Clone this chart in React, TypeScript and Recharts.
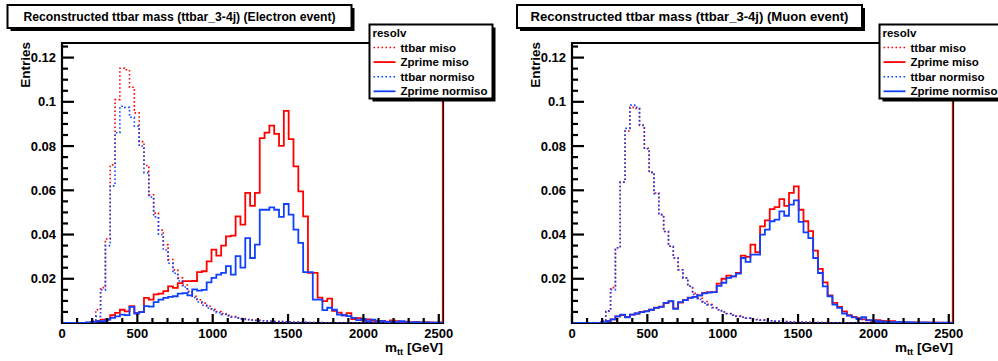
import { LineChart, Line, XAxis, YAxis, ReferenceArea } from "recharts"

// 79 bins of 32 GeV from 0 to 2528 GeV
const BIN_WIDTH = 32
const X_MAX = 2528
const Y_MAX = 0.1266

const X_TICKS = [0, 100, 200, 300, 400, 500, 600, 700, 800, 900, 1000, 1100, 1200, 1300, 1400, 1500, 1600, 1700, 1800, 1900, 2000, 2100, 2200, 2300, 2400, 2500]
const Y_TICKS = [0.005, 0.01, 0.015, 0.02, 0.025, 0.03, 0.035, 0.04, 0.045, 0.05, 0.055, 0.06, 0.065, 0.07, 0.075, 0.08, 0.085, 0.09, 0.095, 0.1, 0.105, 0.11, 0.115, 0.12, 0.125]

// Electron event
const ttbarMisoE = [
    0, 0, 0, 0, 0, 0, 0.001, 0.006, 0.016, 0.038,
    0.0715, 0.101, 0.1152, 0.1145, 0.1066, 0.095, 0.082, 0.0712, 0.058, 0.0497,
    0.042, 0.0354, 0.0287, 0.024, 0.0204, 0.0172, 0.0143, 0.0121, 0.0105, 0.009,
    0.0076, 0.0062, 0.0052, 0.0043, 0.0035, 0.0029, 0.0024, 0.002, 0.0016, 0.0014,
    0.0012, 0.001, 0.0009, 0.0008, 0.0007, 0.0006, 0.0005, 0.0004, 0.0004, 0.0003,
    0.0003, 0.0002, 0.0002, 0.0002, 0.0001, 0.0001, 0.0001, 0.0001, 0.0001, 0.0001,
    0.0001, 0, 0, 0, 0, 0, 0, 0, 0, 0,
    0, 0, 0, 0, 0, 0, 0, 0, 0,
]
const zprimeMisoE = [
    0, 0, 0, 0, 0, 0.0002, 0.0003, 0.001, 0.0015, 0.0016,
    0.0035, 0.0046, 0.006, 0.0053, 0.0076, 0.0046, 0.005, 0.0114, 0.0106, 0.0129,
    0.0133, 0.0144, 0.0166, 0.0159, 0.018, 0.0189, 0.0189, 0.019, 0.023, 0.0234,
    0.0279, 0.0332, 0.0305, 0.035, 0.0392, 0.0395, 0.0482, 0.0445, 0.0588, 0.053,
    0.0588, 0.0836, 0.0861, 0.0892, 0.0855, 0.0801, 0.0959, 0.0831, 0.0708, 0.0595,
    0.0482, 0.0227, 0.0227, 0.0115, 0.0099, 0.011, 0.0055, 0.0047, 0.0035, 0.0045,
    0.0018, 0.0022, 0.0012, 0.0016, 0.001, 0.0008, 0.0009, 0.0006, 0.0012, 0.0008,
    0.0005, 0.0006, 0.0004, 0.0005, 0.0003, 0.0004, 0.0003, 0.0002, 0.0003,
]
const ttbarNormisoE = [
    0, 0, 0, 0, 0, 0, 0.001, 0.003, 0.015, 0.035,
    0.062, 0.086, 0.098, 0.0975, 0.093, 0.089, 0.08, 0.068, 0.057, 0.048,
    0.04, 0.033, 0.027, 0.0225, 0.019, 0.0163, 0.014, 0.0115, 0.0095, 0.008,
    0.0068, 0.0057, 0.0047, 0.0039, 0.0032, 0.0027, 0.0022, 0.0018, 0.0015, 0.0013,
    0.0011, 0.001, 0.0009, 0.0008, 0.0007, 0.0006, 0.0005, 0.0004, 0.0003, 0.0003,
    0.0003, 0.0002, 0.0002, 0.0001, 0.0001, 0.0001, 0.0001, 0.0001, 0.0001, 0.0001,
    0, 0, 0, 0, 0, 0, 0, 0, 0, 0,
    0, 0, 0, 0, 0, 0, 0, 0, 0,
]
const zprimeNormisoE = [
    0, 0, 0, 0, 0, 0.0003, 0.0005, 0.0008, 0.0008, 0.0015,
    0.0023, 0.003, 0.0038, 0.0036, 0.0073, 0.0043, 0.0049, 0.0076, 0.0074, 0.0094,
    0.0106, 0.0114, 0.0118, 0.0121, 0.0133, 0.0135, 0.0125, 0.0152, 0.0146, 0.015,
    0.0184, 0.0204, 0.0219, 0.0227, 0.0257, 0.0219, 0.0302, 0.025, 0.0384, 0.0294,
    0.0354, 0.0512, 0.0512, 0.0523, 0.0512, 0.048, 0.0538, 0.049, 0.0422, 0.0362,
    0.023, 0.023, 0.0106, 0.0106, 0.0058, 0.0069, 0.006, 0.0038, 0.0035, 0.0031,
    0.0023, 0.0013, 0.0018, 0.0008, 0.0015, 0.0006, 0.0008, 0.0005, 0.0006, 0.0005,
    0.0008, 0.0004, 0.0003, 0.0004, 0.0003, 0.0003, 0.0002, 0.0002, 0.0002,
]

// Muon event
const ttbarMisoM = [
    0, 0, 0, 0, 0, 0, 0.0008, 0.0055, 0.016, 0.034,
    0.0637, 0.0868, 0.0975, 0.097, 0.0893, 0.079, 0.068, 0.0588, 0.049, 0.0414,
    0.0347, 0.0294, 0.0241, 0.0204, 0.0166, 0.0134, 0.0112, 0.0097, 0.0084, 0.007,
    0.006, 0.005, 0.0043, 0.0036, 0.0031, 0.0026, 0.0022, 0.0018, 0.0016, 0.0013,
    0.0011, 0.001, 0.0008, 0.0007, 0.0006, 0.0005, 0.0004, 0.0004, 0.0003, 0.0003,
    0.0002, 0.0002, 0.0002, 0.0001, 0.0001, 0.0001, 0.0001, 0, 0, 0,
    0, 0, 0, 0, 0, 0, 0, 0, 0, 0,
    0, 0, 0, 0, 0, 0, 0, 0, 0,
]
const zprimeMisoM = [
    0, 0, 0, 0, 0, 0, 0.0003, 0.0008, 0.0016, 0.003,
    0.0036, 0.0028, 0.0038, 0.0043, 0.005, 0.0054, 0.006, 0.0069, 0.0074, 0.009,
    0.0098, 0.0066, 0.0092, 0.0104, 0.0115, 0.0118, 0.0125, 0.0136, 0.014, 0.014,
    0.0178, 0.02, 0.0214, 0.0211, 0.0227, 0.0305, 0.0299, 0.0354, 0.032, 0.0437,
    0.0464, 0.0515, 0.0524, 0.056, 0.053, 0.0588, 0.0618, 0.0512, 0.046, 0.0415,
    0.0327, 0.0245, 0.0184, 0.0125, 0.0091, 0.0073, 0.0053, 0.0035, 0.0028, 0.0022,
    0.0016, 0.0012, 0.001, 0.0013, 0.0009, 0.0007, 0.0008, 0.0005, 0.0004, 0.0003,
    0.0003, 0.0003, 0.0002, 0.0003, 0.0002, 0.0002, 0.0002, 0.0001, 0.0002,
]
const ttbarNormisoM = [
    0, 0, 0, 0, 0, 0, 0.0008, 0.0053, 0.0151, 0.034,
    0.0637, 0.088, 0.0985, 0.0975, 0.0895, 0.0788, 0.0682, 0.0585, 0.049, 0.0414,
    0.0347, 0.0294, 0.0241, 0.0204, 0.0166, 0.0129, 0.0106, 0.009, 0.0082, 0.0069,
    0.006, 0.005, 0.0042, 0.0035, 0.003, 0.0026, 0.0022, 0.0018, 0.0015, 0.0013,
    0.0011, 0.001, 0.0008, 0.0007, 0.0006, 0.0005, 0.0004, 0.0004, 0.0003, 0.0003,
    0.0002, 0.0002, 0.0001, 0.0001, 0.0001, 0.0001, 0, 0, 0, 0,
    0, 0, 0, 0, 0, 0, 0, 0, 0, 0,
    0, 0, 0, 0, 0, 0, 0, 0, 0,
]
const zprimeNormisoM = [
    0, 0, 0, 0, 0, 0, 0.0003, 0.0008, 0.0016, 0.003,
    0.0038, 0.0026, 0.0038, 0.0043, 0.0049, 0.0053, 0.006, 0.0068, 0.0073, 0.0091,
    0.0099, 0.0064, 0.0094, 0.0103, 0.0114, 0.0118, 0.0125, 0.0134, 0.0137, 0.014,
    0.0168, 0.0182, 0.0204, 0.0211, 0.0223, 0.0294, 0.0276, 0.0309, 0.0309, 0.04,
    0.0422, 0.046, 0.0467, 0.0505, 0.0485, 0.0535, 0.0554, 0.0457, 0.041, 0.0384,
    0.0294, 0.0226, 0.0166, 0.0121, 0.0083, 0.0068, 0.0043, 0.0033, 0.0025, 0.0018,
    0.0026, 0.0013, 0.0012, 0.0008, 0.0006, 0.0005, 0.0004, 0.0005, 0.0004, 0.0004,
    0.0003, 0.0002, 0.0003, 0.0002, 0.0002, 0.0002, 0.0001, 0.0002, 0.0001,
]

// overflow content of the Zprime miso histogram, drawn at the right edge
const zprimeMisoOverflow = 1

const RED = "#ff0000"
const BLUE = "#1040ff"
const FONT = '"Liberation Sans", Arial, Helvetica, sans-serif'
const DOTS = "1.6 2.4"

const SERIES = [
    { key: "tm", name: "ttbar miso", color: RED, dash: DOTS },
    { key: "zm", name: "Zprime miso", color: RED, dash: undefined },
    { key: "tn", name: "ttbar normiso", color: BLUE, dash: DOTS },
    { key: "zn", name: "Zprime normiso", color: BLUE, dash: undefined },
]

function buildRows(tm: number[], zm: number[], tn: number[], zn: number[]) {
    const rows: any[] = tm.map((_, k) => ({ x: k * BIN_WIDTH, tm: tm[k], zm: zm[k], tn: tn[k], zn: zn[k] }))
    const last = rows[rows.length - 1]
    rows.push({ ...last, x: X_MAX, zm: zprimeMisoOverflow })
    return rows
}

const electronRows = buildRows(ttbarMisoE, zprimeMisoE, ttbarNormisoE, zprimeNormisoE)
const muonRows = buildRows(ttbarMisoM, zprimeMisoM, ttbarNormisoM, zprimeNormisoM)

function XTick(props: any) {
    const { x, y, payload } = props
    const v = payload.value
    const major = v % 500 === 0
    return (
        <g>
            <line x1={x} x2={x} y1={y} y2={y - (major ? 9 : 5)} stroke="#000" strokeWidth={2.2} />
            {major && (
                <text x={x} y={y + 15} textAnchor="middle" fontFamily={FONT} fontWeight="bold" fontSize={13} fill="#000">
                    {v}
                </text>
            )}
        </g>
    )
}

function YTick(props: any) {
    const { x, y, payload } = props
    const v = payload.value
    const major = Math.round(v * 1000) % 20 === 0
    return (
        <g>
            <line x1={x} x2={x + (major ? 12 : 6)} y1={y} y2={y} stroke="#000" strokeWidth={2.2} />
            {major && (
                <text x={x - 6} y={y + 4.6} textAnchor="end" fontFamily={FONT} fontWeight="bold" fontSize={13} fill="#000">
                    {String(v)}
                </text>
            )}
        </g>
    )
}

function Overlay({ title, titleSize, titleX, titleW }: { title: string; titleSize: number; titleX: number; titleW: number }) {
    const lx = 369.5
    const ly = 24.5
    return (
        <svg width={499} height={361} style={{ position: "absolute", left: 0, top: 0, pointerEvents: "none" }}>
            {/* title pave */}
            <rect x={titleX + 3} y={8} width={titleW} height={23} fill="#000" />
            <rect x={titleX} y={5} width={titleW} height={23} fill="#fff" stroke="#000" strokeWidth={2} />
            <text x={titleX + titleW / 2} y={21} textAnchor="middle" fontFamily={FONT} fontWeight="bold" fontSize={titleSize} fill="#000">
                {title}
            </text>

            {/* legend */}
            <rect x={lx + 3} y={ly + 3} width={123} height={74} fill="#000" />
            <rect x={lx} y={ly} width={123} height={74} fill="#fff" stroke="#000" strokeWidth={2} />
            <text x={lx + 3} y={ly + 12.5} fontFamily={FONT} fontWeight="bold" fontSize={11.5} fill="#000">resolv</text>
            {SERIES.map((s, i) => {
                const cy = ly + 23 + i * 14.6
                return (
                    <g key={s.key}>
                        <line x1={lx + 4} x2={lx + 26} y1={cy} y2={cy} stroke={s.color} strokeWidth={s.dash ? 1.6 : 1.8} strokeDasharray={s.dash} />
                        <text x={lx + 31} y={cy + 4} fontFamily={FONT} fontWeight="bold" fontSize={11.5} fill="#000">{s.name}</text>
                    </g>
                )
            })}

            {/* axis titles */}
            <text transform="rotate(-90)" x={-42} y={29.8} textAnchor="end" fontFamily={FONT} fontWeight="bold" fontSize={13.5} fill="#000">
                Entries
            </text>
            <text x={443} y={352} textAnchor="end" fontFamily={FONT} fontWeight="bold" fontSize={13.5} fill="#000">
                m<tspan fontSize={9.5} dy={3}>tt</tspan><tspan dy={-3}> [GeV]</tspan>
            </text>
        </svg>
    )
}

function Panel({ rows, title, titleSize, titleX, titleW, left }: any) {
    return (
        <div style={{ position: "absolute", left, top: 0, width: 499, height: 361 }}>
            <LineChart width={499} height={361} data={rows} margin={{ top: 43, right: 56, bottom: 8, left: 2 }}>
                <XAxis
                    dataKey="x"
                    type="number"
                    domain={[0, X_MAX]}
                    ticks={X_TICKS}
                    interval={0}
                    tick={<XTick />}
                    tickLine={false}
                    tickSize={0}
                    tickMargin={0}
                    axisLine={false}
                    height={30}
                    allowDataOverflow
                />
                <YAxis
                    type="number"
                    domain={[0, Y_MAX]}
                    ticks={Y_TICKS}
                    interval={0}
                    tick={<YTick />}
                    tickLine={false}
                    tickSize={0}
                    tickMargin={0}
                    axisLine={false}
                    width={60}
                    allowDataOverflow
                />
                <ReferenceArea x1={0} x2={X_MAX} y1={0} y2={Y_MAX} fill="none" fillOpacity={0} stroke="#000" strokeWidth={2.2} />
                {SERIES.map((s) => (
                    <Line
                        key={s.key}
                        dataKey={s.key}
                        type="stepAfter"
                        stroke={s.color}
                        strokeWidth={s.dash ? 1.6 : 1.8}
                        strokeDasharray={s.dash}
                        dot={false}
                        activeDot={false}
                        isAnimationActive={false}
                    />
                ))}
            </LineChart>
            <Overlay title={title} titleSize={titleSize} titleX={titleX} titleW={titleW} />
        </div>
    )
}

export default function App() {
    return (
        <div style={{ position: "absolute", left: 0, top: 0, width: 998, height: 361, overflow: "hidden", background: "#fff" }}>
            <Panel
                rows={electronRows}
                title="Reconstructed ttbar mass (ttbar_3-4j) (Electron event)"
                titleSize={12.2}
                titleX={7.5}
                titleW={344}
                left={0}
            />
            <Panel
                rows={muonRows}
                title="Reconstructed ttbar mass (ttbar_3-4j) (Muon event)"
                titleSize={13.1}
                titleX={7}
                titleW={345}
                left={510}
            />
        </div>
    )
}
